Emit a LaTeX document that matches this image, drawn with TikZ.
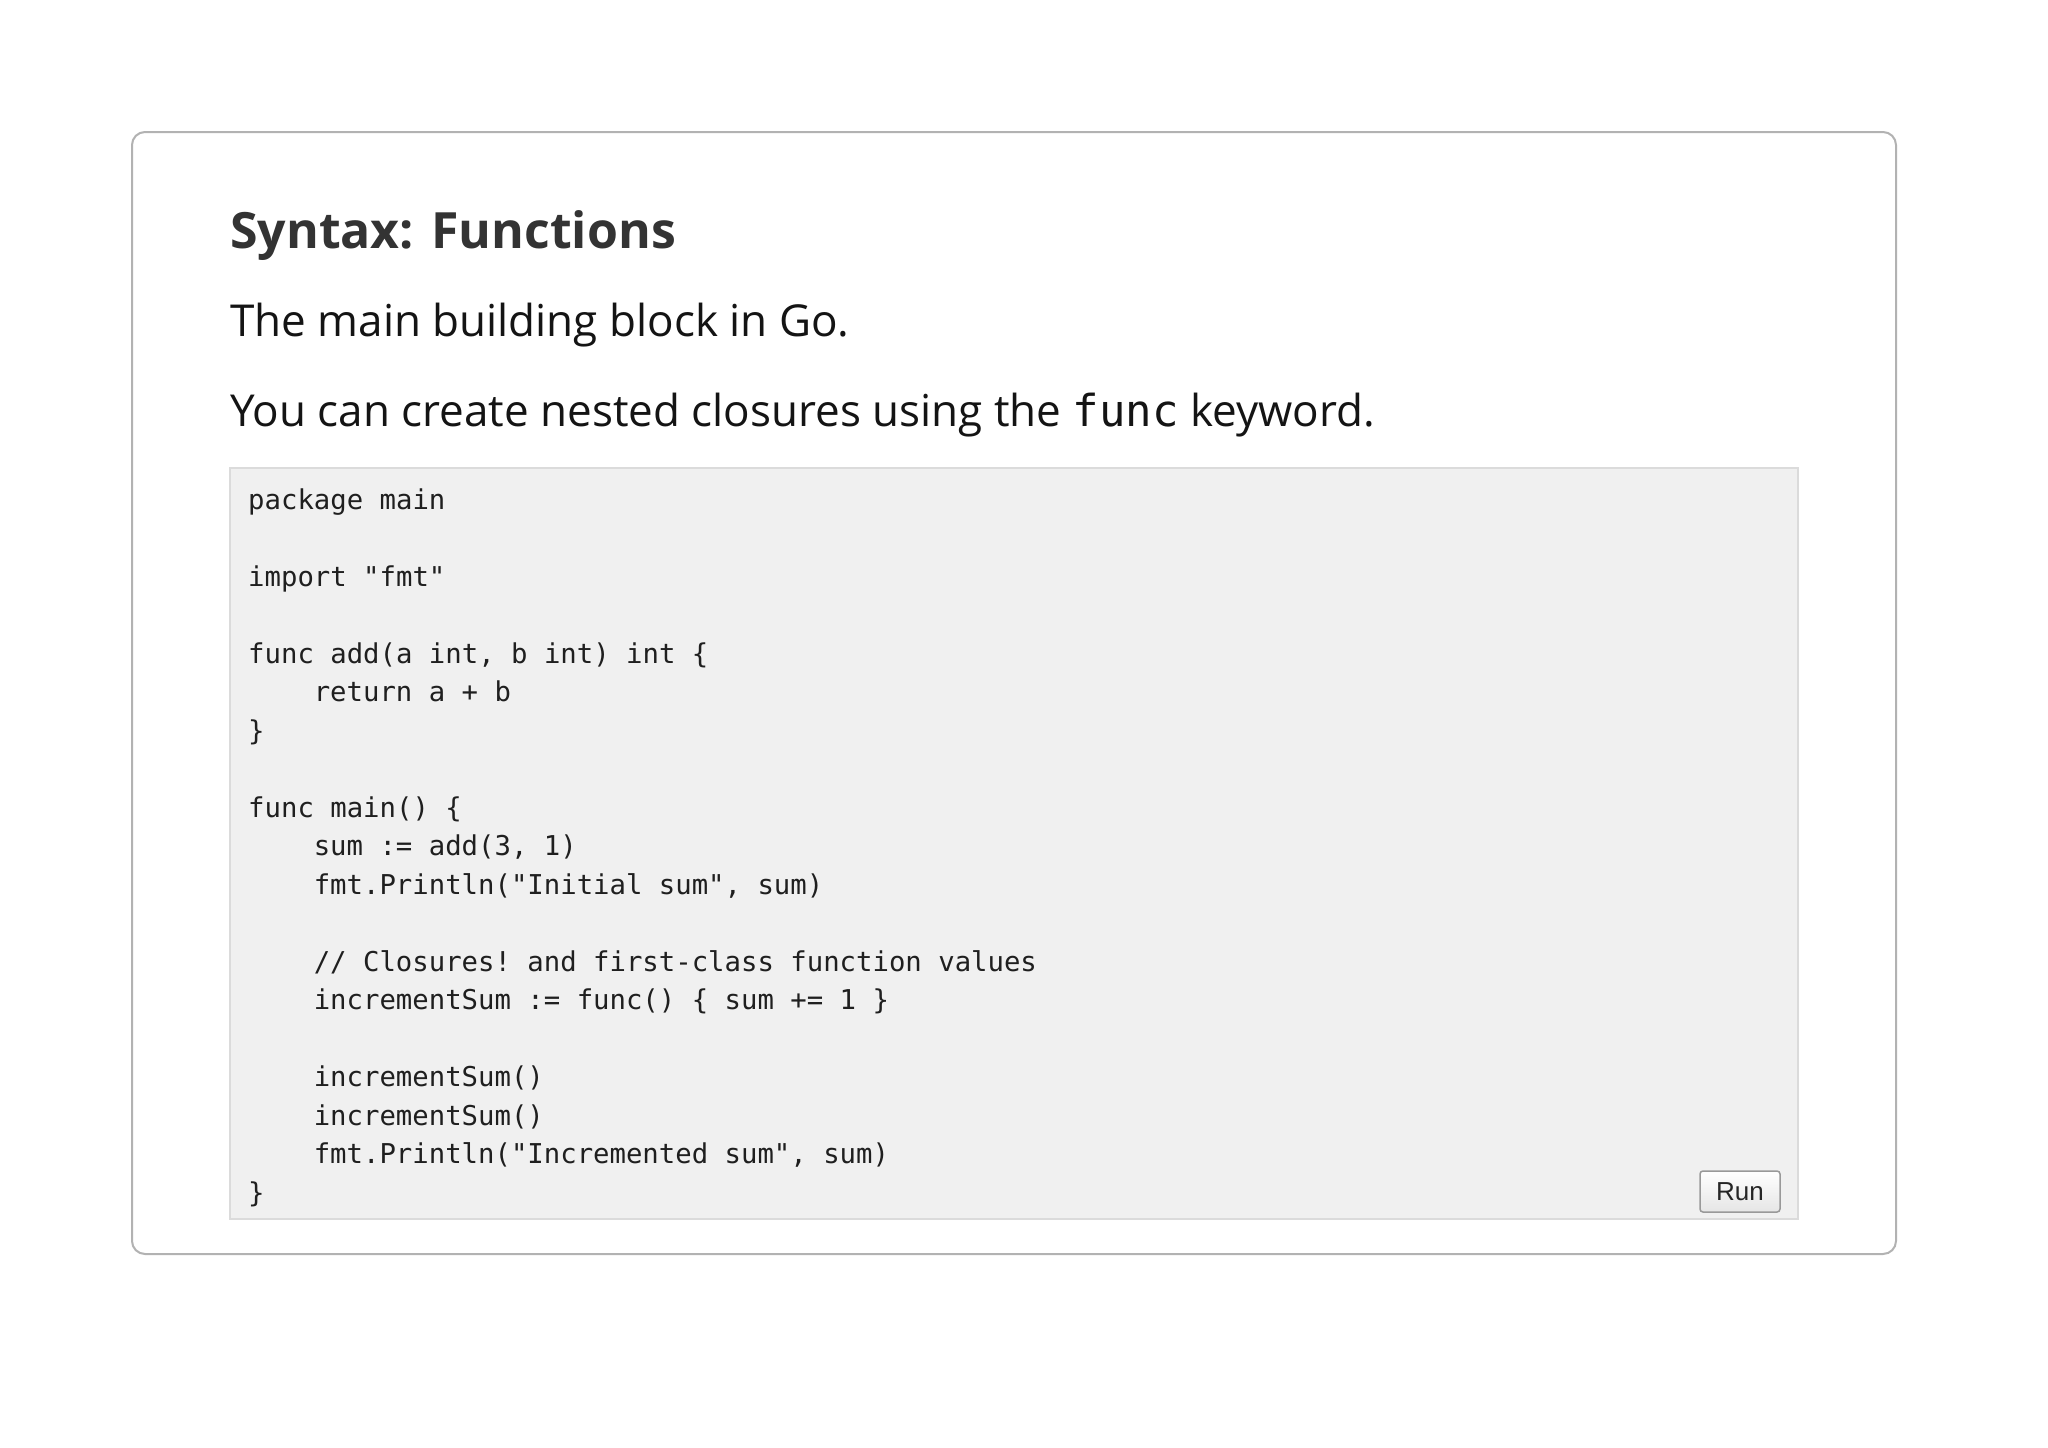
\documentclass[tikz,border=0pt]{standalone}
\usepackage{fontspec}
\setmainfont{Open Sans}
\setmonofont{DejaVu Sans Mono}
\begin{document}
\begin{tikzpicture}[x=1pt,y=1pt,
  codeline/.style={anchor=base west,inner sep=0pt,font=\fontsize{27.3}{30}\ttfamily,text=black!88},
  para/.style={anchor=base west,inner sep=0pt,font=\fontsize{44}{50}\selectfont,text=black!92}]
\useasboundingbox (0,0) rectangle (2048,-1448);
\fill[white] (0,0) rectangle (2048,-1448);
\draw[draw=black!30,line width=2pt,rounded corners=13pt,fill=white] (132,-132) rectangle (1896,-1254);
\node[anchor=base west,inner sep=0pt,font=\fontsize{50}{56}\selectfont\bfseries,text=black!80] (title) at (230,-248) {Syntax: Functions};
\node[para] (p1) at (230,-336) {The main building block in Go.};
\node[para] (p2) at (230,-426) {You can create nested closures using the {\ttfamily func} keyword.};
\draw[draw=black!14,line width=1.5pt,fill=black!6] (230,-468) rectangle (1798,-1219);
\def\lh{38.5}
\def\xa{248}\def\xb{313.6}
\node[codeline] (c1) at (\xa,-509) {package main};
\node[codeline] (c3) at (\xa,-509-2*\lh) {import "fmt"};
\node[codeline] (c5) at (\xa,-509-4*\lh) {func add(a int, b int) int \{};
\node[codeline] (c6) at (\xb,-509-5*\lh) {return a + b};
\node[codeline] (c7) at (\xa,-509-6*\lh) {\}};
\node[codeline] (c9) at (\xa,-509-8*\lh) {func main() \{};
\node[codeline] (c10) at (\xb,-509-9*\lh) {sum := add(3, 1)};
\node[codeline] (c11) at (\xb,-509-10*\lh) {fmt.Println("Initial sum", sum)};
\node[codeline] (c13) at (\xb,-509-12*\lh) {// Closures! and first-class function values};
\node[codeline] (c14) at (\xb,-509-13*\lh) {incrementSum := func() \{ sum += 1 \}};
\node[codeline] (c16) at (\xb,-509-15*\lh) {incrementSum()};
\node[codeline] (c17) at (\xb,-509-16*\lh) {incrementSum()};
\node[codeline] (c18) at (\xb,-509-17*\lh) {fmt.Println("Incremented sum", sum)};
\node[codeline] (c19) at (\xa,-509-18*\lh) {\}};
\shade[top color=white,bottom color=black!10,draw=black!40,line width=1.5pt,rounded corners=3pt] (1700,-1171) rectangle (1780,-1212);
\node[inner sep=0pt,font=\fontsize{26}{28}\fontspec{Liberation Sans},text=black!85] (run) at (1740,-1192) {Run};
\end{tikzpicture}
\end{document}
